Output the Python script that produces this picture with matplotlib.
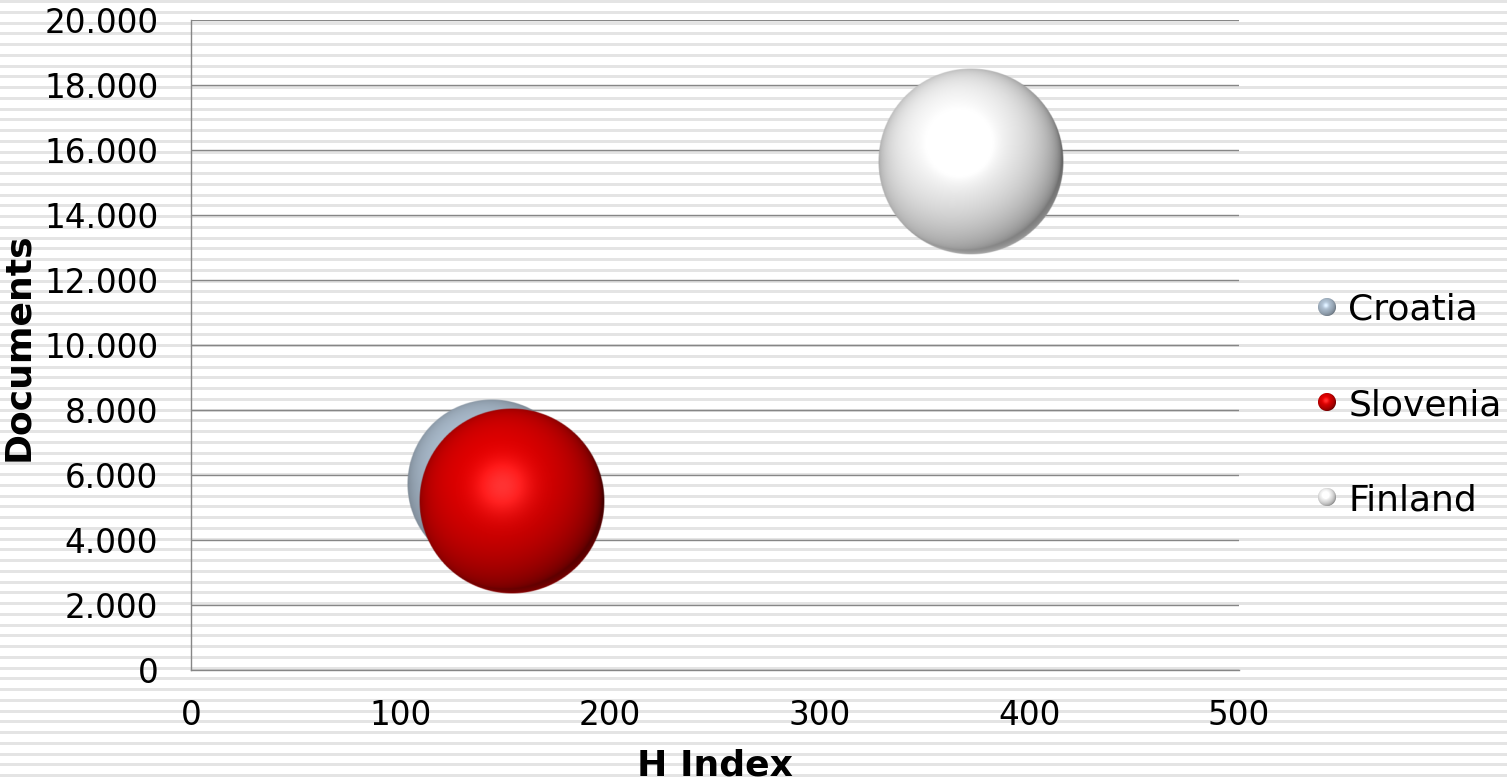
import numpy as np
import matplotlib
matplotlib.use("Agg")
import matplotlib.pyplot as plt
from matplotlib.lines import Line2D
from matplotlib.ticker import FuncFormatter

# ---- data ----
countries = ["Croatia", "Slovenia", "Finland"]
h_index = [143.6, 153.1, 372.1]
documents = [5720, 5215, 15646]
bubble_size = [83.5, 100.0, 100.0]          # relative bubble areas
base_colors = [(0.70, 0.77, 0.84), (0.90, 0.0, 0.0), (1.0, 1.0, 1.0)]
ambients = [0.45, 0.30, 0.40]

x_ticks = [0, 100, 200, 300, 400, 500]
y_ticks = list(range(0, 20001, 2000))

W, H = 1507, 779
DPI = 100
fig = plt.figure(figsize=(W / DPI, H / DPI), dpi=DPI)
fig.patch.set_facecolor("white")

# striped background
bg = fig.add_axes([0, 0, 1, 1], zorder=-10)
bg.set_xlim(0, W)
bg.set_ylim(H, 0)
bg.axis("off")
period = 10.75
yy = 0.0
while yy < H:
    bg.axhspan(yy, yy + 3.0, color="#e4e4e4", lw=0)
    yy += period

L, R, T, B = 191, 1239, 20, 670
ax = fig.add_axes([L / W, (H - B) / H, (R - L) / W, (B - T) / H])
ax.set_facecolor("none")
ax.set_xlim(0, 500)
ax.set_ylim(0, 20000)
ax.set_xticks(x_ticks)
ax.set_yticks(y_ticks)
ax.yaxis.set_major_formatter(FuncFormatter(lambda v, p: f"{v:,.0f}".replace(",", ".")))
ax.tick_params(length=0, labelsize=23.5, colors="black")
ax.tick_params(axis="y", pad=23.5)
ax.tick_params(axis="x", pad=21)
for s in ["top", "right"]:
    ax.spines[s].set_visible(False)
for s in ["left", "bottom"]:
    ax.spines[s].set_color("#868686")
    ax.spines[s].set_linewidth(1.0)
ax.grid(axis="y", color="#868686", lw=1.0)
ax.set_axisbelow(True)

ax.set_xlabel("H Index", fontsize=26, fontweight="bold", va="center")
ax.xaxis.set_label_coords(0.5, (B - 765) / (B - T))
ax.set_ylabel("Documents", fontsize=26, fontweight="bold", va="center")
ax.yaxis.set_label_coords((18 - L) / (R - L), 0.497)


def sphere_rgba(base, ambient, n=300):
    u = np.linspace(-1, 1, n)
    X, Y = np.meshgrid(u, -u)  # Y up (row 0 = top)
    r2 = X ** 2 + Y ** 2
    r = np.sqrt(r2)
    Z = np.sqrt(np.clip(1 - r2, 0, 1))
    Lv = np.array([-0.20, 0.32, 0.92])
    Lv = Lv / np.linalg.norm(Lv)
    d = np.clip(X * Lv[0] + Y * Lv[1] + Z * Lv[2], 0, 1)
    Hv = Lv + np.array([0, 0, 1.0])
    Hv = Hv / np.linalg.norm(Hv)
    spec = np.clip(X * Hv[0] + Y * Hv[1] + Z * Hv[2], 0, 1) ** 25
    rim = np.clip(-Y, 0, 1) * (1 - Z) ** 2 * 0.35
    img = np.zeros((n, n, 4))
    for c in range(3):
        v = base[c] * (ambient + (1 - ambient) * d ** 0.7 + rim) + 0.20 * spec
        img[..., c] = np.clip(v, 0, 1)
    img[..., 3] = np.clip((1 - r) * n / 2.0, 0, 1)
    return img


R_MAX_PX = 93.0
smax = max(bubble_size)
inv = ax.transData.inverted()
for xv, yv, sz, col, amb in zip(h_index, documents, bubble_size, base_colors, ambients):
    rpx = R_MAX_PX * np.sqrt(sz / smax)
    cx, cy = ax.transData.transform((xv, yv))
    (x0, y0b) = inv.transform((cx - rpx, cy - rpx))
    (x1, y1b) = inv.transform((cx + rpx, cy + rpx))
    ax.imshow(sphere_rgba(col, amb), extent=(x0, x1, y0b, y1b), aspect="auto",
              interpolation="bilinear", zorder=3)
ax.set_xlim(0, 500)
ax.set_ylim(0, 20000)

handles = [Line2D([], [], ls="none", marker="o", markersize=14,
                  markerfacecolor="none", markeredgecolor="none") for c in base_colors]
leg = fig.legend(handles, countries, loc="center left",
                 bbox_to_anchor=(1316 / W, (H - 405) / H), frameon=False,
                 fontsize=26, handlelength=0.6, handletextpad=0.3,
                 labelspacing=1.69, borderaxespad=0, borderpad=0)

# sphere images for legend markers
fig.canvas.draw()
renderer = fig.canvas.get_renderer()
for h, col, amb in zip(leg.legend_handles, base_colors, ambients):
    ext = h.get_window_extent(renderer)
    cx = (ext.x0 + ext.x1) / 2
    cy = (ext.y0 + ext.y1) / 2
    d = 20
    fig.figimage(sphere_rgba(col, amb, n=d), xo=int(round(cx - d / 2)),
                 yo=int(round(cy - d / 2)), zorder=5)

fig.savefig("out.png", dpi=DPI)
